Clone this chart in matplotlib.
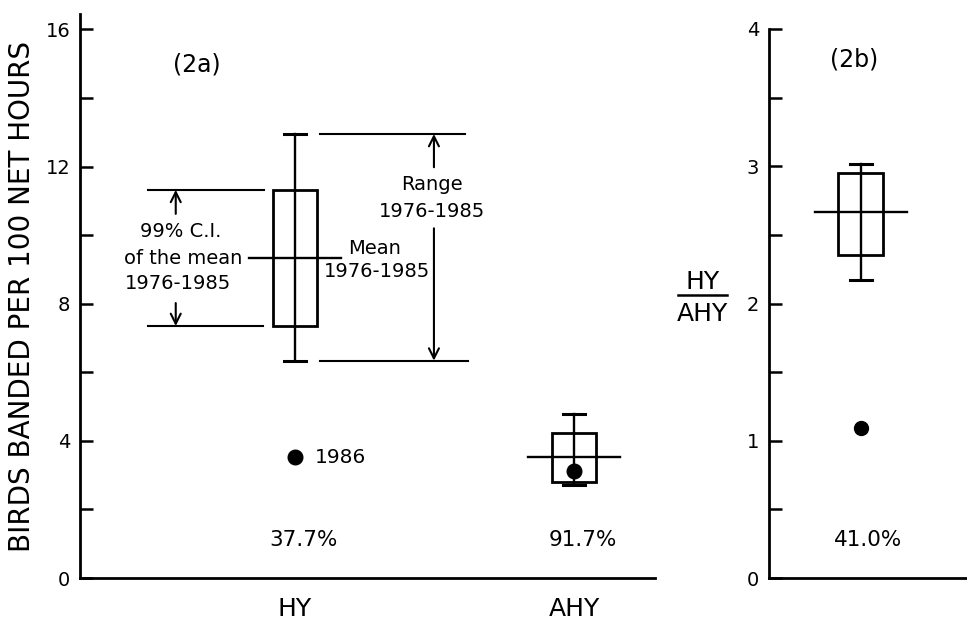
import matplotlib
matplotlib.use("Agg")
import matplotlib.pyplot as plt
from matplotlib.lines import Line2D
import numpy as np

# values
groups = ["HY", "AHY"]
ci_low = [7.35, 2.80]
ci_high = [11.32, 4.24]
means = [9.33, 3.52]
range_low = [6.34, 2.70]
range_high = [12.95, 4.77]
year_1986 = [3.52, 3.11]
pct_labels = ["37.7%", "91.7%"]

ratio_ci = [2.35, 2.95]
ratio_mean = 2.67
ratio_range = [2.17, 3.02]
ratio_1986 = 1.09
ratio_pct = "41.0%"

plt.rcParams["font.family"] = ["DejaVu Sans"]

BOX_W = 0.16
MEAN_W = 0.33
CAP_W = 0.08
LW = 1.7
NOTE_FS = 14


def draw_summary(ax, x, lo, hi, mean, rlo, rhi):
    ax.add_patch(plt.Rectangle((x - BOX_W / 2, lo), BOX_W, hi - lo,
                               fill=False, ec="black", lw=LW + 0.3))
    ax.plot([x, x], [rlo, rhi], color="black", lw=LW)
    ax.plot([x - CAP_W / 2, x + CAP_W / 2], [rhi, rhi], color="black", lw=LW + 0.5)
    ax.plot([x - CAP_W / 2, x + CAP_W / 2], [rlo, rlo], color="black", lw=LW + 0.5)
    ax.plot([x - MEAN_W / 2, x + MEAN_W / 2], [mean, mean], color="black", lw=LW)


def style_axis(ax):
    for s in ["top", "right"]:
        ax.spines[s].set_visible(False)
    for s in ["left", "bottom"]:
        ax.spines[s].set_linewidth(2.0)
    ax.tick_params(axis="y", direction="in", length=9.5, width=1.8,
                   labelsize=14, pad=7)
    ax.tick_params(axis="x", length=0, labelsize=18, pad=14)


fig = plt.figure(figsize=(9.67, 6.2), dpi=100)
ax = fig.add_axes([80 / 967, 42 / 620, 575 / 967, 564 / 620])
ax2 = fig.add_axes([769 / 967, 42 / 620, 200 / 967, 549 / 620])

# ---- panel 2a
xs = np.arange(len(groups))
for i in range(len(groups)):
    draw_summary(ax, xs[i], ci_low[i], ci_high[i], means[i],
                 range_low[i], range_high[i])
    ax.plot(xs[i], year_1986[i], "o", color="black", ms=10.5, zorder=5)
    ax.text(xs[i] + 0.03, 1.1, pct_labels[i], ha="center", va="center",
            fontsize=15.5)

ax.set_xlim(-0.77, 1.29)
ax.set_ylim(0, 16.45)
ax.set_yticks(np.arange(0, 17, 2))
ax.set_yticklabels([str(v) if v % 4 == 0 else "" for v in range(0, 17, 2)])
ax.set_xticks(xs)
ax.set_xticklabels(groups)
style_axis(ax)

ax.text(-0.35, 14.97, "(2a)", ha="center", va="center", fontsize=17)
ax.text(0.072, year_1986[0], "1986", ha="left", va="center", fontsize=14.5)

# CI legend for HY
lw_a = 1.5
ax.plot([-0.527, -0.11], [ci_high[0], ci_high[0]], color="black", lw=lw_a)
ax.plot([-0.527, -0.115], [ci_low[0], ci_low[0]], color="black", lw=lw_a)
ax.annotate("", xy=(-0.427, ci_high[0]), xytext=(-0.427, 10.62),
            arrowprops=dict(arrowstyle="->", lw=lw_a, color="black",
                            shrinkA=0, shrinkB=0, mutation_scale=18))
ax.annotate("", xy=(-0.427, ci_low[0]), xytext=(-0.427, 8.02),
            arrowprops=dict(arrowstyle="->", lw=lw_a, color="black",
                            shrinkA=0, shrinkB=0, mutation_scale=18))
ax.text(-0.41, 10.12, "99% C.I.", ha="center", va="center", fontsize=NOTE_FS)
ax.text(-0.40, 9.33, "of the mean", ha="center", va="center", fontsize=NOTE_FS)
ax.text(-0.42, 8.58, "1976-1985", ha="center", va="center", fontsize=NOTE_FS)

# mean label
ax.text(0.285, 9.62, "Mean", ha="center", va="center", fontsize=NOTE_FS)
ax.text(0.295, 8.95, "1976-1985", ha="center", va="center", fontsize=NOTE_FS)

# range legend
ax.plot([0.09, 0.61], [range_high[0], range_high[0]], color="black", lw=lw_a)
ax.plot([0.09, 0.62], [range_low[0], range_low[0]], color="black", lw=lw_a)
ax.annotate("", xy=(0.498, range_high[0]), xytext=(0.498, 11.98),
            arrowprops=dict(arrowstyle="->", lw=lw_a, color="black",
                            shrinkA=0, shrinkB=0, mutation_scale=18))
ax.annotate("", xy=(0.498, range_low[0]), xytext=(0.498, 10.2),
            arrowprops=dict(arrowstyle="->", lw=lw_a, color="black",
                            shrinkA=0, shrinkB=0, mutation_scale=18))
ax.text(0.49, 11.48, "Range", ha="center", va="center", fontsize=NOTE_FS)
ax.text(0.49, 10.7, "1976-1985", ha="center", va="center", fontsize=NOTE_FS)

# ---- panel 2b
draw_summary(ax2, 0, ratio_ci[0], ratio_ci[1], ratio_mean,
             ratio_range[0], ratio_range[1])
ax2.plot(0, ratio_1986, "o", color="black", ms=10, zorder=5)
ax2.text(0.025, 0.28, ratio_pct, ha="center", va="center", fontsize=15.5)
ax2.text(-0.025, 3.78, "(2b)", ha="center", va="center", fontsize=17)
ax2.set_xlim(-0.33, 0.39)
ax2.set_ylim(0, 4)
ax2.set_yticks(np.arange(0, 4.01, 0.5))
ax2.set_yticklabels([str(int(v)) if v == int(v) else "" for v in np.arange(0, 4.01, 0.5)])
ax2.set_xticks([])
style_axis(ax2)

# y labels
fig.text(22 / 967, 1 - 297 / 620, "BIRDS BANDED PER 100 NET HOURS",
         rotation=90, ha="center", va="center", fontsize=20)
fig.text(703 / 967, 1 - 282 / 620, "HY", ha="center", va="center", fontsize=18)
fig.text(702 / 967, 1 - 314 / 620, "AHY", ha="center", va="center", fontsize=18)
fig.add_artist(Line2D([678 / 967, 727 / 967], [1 - 295 / 620, 1 - 295 / 620],
                      color="black", lw=1.8, transform=fig.transFigure))

fig.savefig("out.png", dpi=100)
